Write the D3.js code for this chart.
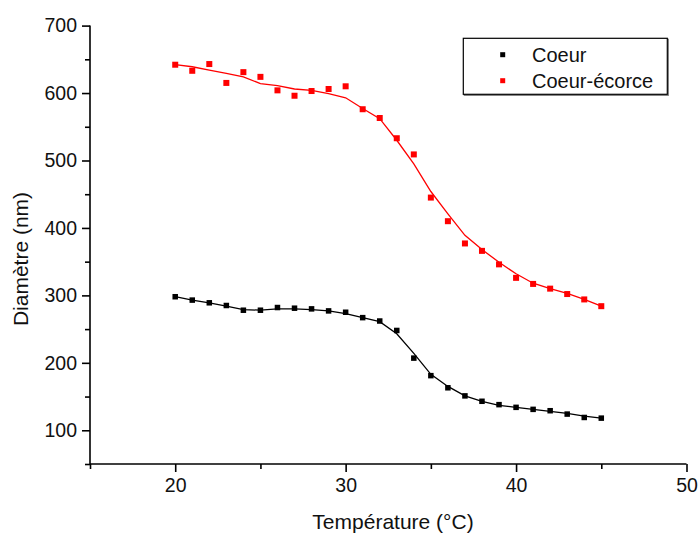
<!DOCTYPE html>
<html>
<head>
<meta charset="utf-8">
<script src="https://cdn.jsdelivr.net/npm/d3@7"></script>
<style>
  html, body { margin: 0; padding: 0; background: #fff; }
  svg { display: block; font-family: "Liberation Sans", Arial, sans-serif; }
</style>
</head>
<body>
<svg id="chart" width="699" height="533"></svg>
<script>
// ---- data ----
const temps = [20,21,22,23,24,25,26,27,28,29,30,31,32,33,34,35,36,37,38,39,40,41,42,43,44,45];
const coeur = [298,293,289,285,278,278,282,281,280,277,275,267,262,248,207,181,163,151,143,138,134,131,129,124,119,118];
const coeurFit = [298,293,289,284,279,278,280,280,279,277,273,267,261,243,214,183,165,151,143,137,134,131,128,125,121,118];
const ecorce = [642,633,643,615,631,624,604,596,603,606,610,576,563,533,509,445,410,377,366,346,326,317,310,302,294,284];
const ecorceFit = [642,639,634,629,624,614,611,606,604,599,593,577,562,530,495,454,421,389,368,349,332,318,310,303,294,284];
const xTicks = [20,30,40,50];
const xMinor = [15,25,35,45];
const yTicks = [100,200,300,400,500,600,700];
const yMinor = [50,150,250,350,450,550,650];
const seriesNames = ["Coeur", "Coeur-écorce"];
const seriesColors = ["#000000", "#ff0000"];

// ---- layout ----
const svg = d3.select("#chart");
const x = d3.scaleLinear().domain([15, 50]).range([90, 686.5]);
const y = d3.scaleLinear().domain([50, 700]).range([464, 25.6]);

// axes
const axisG = svg.append("g").attr("stroke", "#000");
const xAxis = svg.append("g").attr("transform", `translate(0,${y(50)})`)
  .call(d3.axisBottom(x).tickValues(xTicks).tickSize(8).tickPadding(6).tickFormat(d3.format("d")));
const xAxisMinor = svg.append("g").attr("transform", `translate(0,${y(50)})`)
  .call(d3.axisBottom(x).tickValues(xMinor).tickSize(5).tickFormat(""));
const yAxis = svg.append("g").attr("transform", `translate(${x(15)},0)`)
  .call(d3.axisLeft(y).tickValues(yTicks).tickSize(8).tickPadding(5).tickFormat(d3.format("d")));
const yAxisMinor = svg.append("g").attr("transform", `translate(${x(15)},0)`)
  .call(d3.axisLeft(y).tickValues(yMinor).tickSize(5).tickFormat(""));

[xAxis, xAxisMinor, yAxis, yAxisMinor].forEach(g => {
  g.selectAll(".domain").attr("stroke", "#000").attr("stroke-width", 1.6);
  g.selectAll(".tick line").attr("stroke", "#000").attr("stroke-width", 1.6);
  g.selectAll(".tick text").attr("fill", "#111").attr("font-size", "19.5px")
   .attr("font-family", "'Liberation Sans', Arial, sans-serif");
});
xAxis.selectAll(".domain").attr("d", `M${x(15)},0H${x(50)}`);
yAxis.selectAll(".domain").attr("d", `M0,${y(50)}V${y(700)}`);
xAxisMinor.select(".domain").remove();
yAxisMinor.select(".domain").remove();

// axis titles
svg.append("text")
  .attr("x", 393).attr("y", 529)
  .attr("text-anchor", "middle").attr("font-size", "21px").attr("fill", "#111")
  .text("Température (°C)");
svg.append("text")
  .attr("transform", `translate(28,${259}) rotate(-90)`)
  .attr("text-anchor", "middle").attr("font-size", "21px").attr("fill", "#111")
  .text("Diamètre (nm)");

// series
const line = d3.line().x((d) => x(d[0])).y((d) => y(d[1])).curve(d3.curveLinear);
const series = [
  { pts: coeur, fit: coeurFit, color: seriesColors[0], size: 5.5 },
  { pts: ecorce, fit: ecorceFit, color: seriesColors[1], size: 6 }
];
series.forEach(s => {
  svg.append("path")
    .datum(temps.map((t, i) => [t, s.fit[i]]))
    .attr("fill", "none").attr("stroke", s.color).attr("stroke-width", 1.3)
    .attr("d", line);
  svg.append("g").selectAll("rect")
    .data(temps.map((t, i) => [t, s.pts[i]]))
    .join("rect")
    .attr("x", d => x(d[0]) - s.size / 2)
    .attr("y", d => y(d[1]) - s.size / 2)
    .attr("width", s.size).attr("height", s.size)
    .attr("fill", s.color);
});

// legend
const lg = svg.append("g");
lg.append("rect").attr("x", 464.3).attr("y", 39.3).attr("width", 204).attr("height", 56)
  .attr("fill", "none").attr("stroke", "#777").attr("stroke-width", 1.2);
lg.append("rect").attr("x", 463.3).attr("y", 38.3).attr("width", 204).attr("height", 56)
  .attr("fill", "#fff").attr("stroke", "#000").attr("stroke-width", 1.2);
seriesNames.forEach((name, i) => {
  const cy = 54.7 + i * 26;
  lg.append("rect").attr("x", 502.7 - 2.5).attr("y", cy - 2.5).attr("width", 5).attr("height", 5)
    .attr("fill", seriesColors[i]);
  lg.append("text").attr("x", 532).attr("y", cy + 7.5)
    .attr("font-size", "20px").attr("fill", "#111").text(name);
});
</script>
</body>
</html>
